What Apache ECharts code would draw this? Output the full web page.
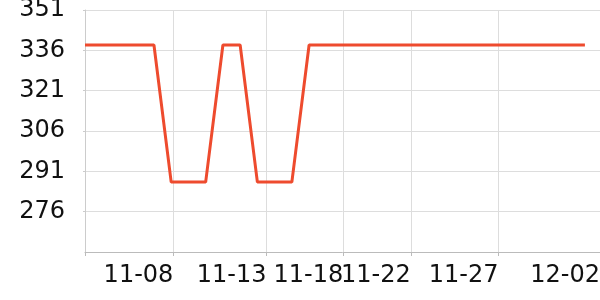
<!DOCTYPE html>
<html><head><meta charset="utf-8">
<script src="https://cdn.jsdelivr.net/npm/echarts@6/dist/echarts.min.js"></script>
<style>html,body{margin:0;padding:0;background:#fff}#c{width:600px;height:300px}</style>
</head><body><div id="c"></div>
<script>
const dates = ['2024-11-03','2024-11-04','2024-11-05','2024-11-06','2024-11-07','2024-11-08','2024-11-09','2024-11-10','2024-11-11','2024-11-12',
  '2024-11-13','2024-11-14','2024-11-15','2024-11-16','2024-11-17','2024-11-18','2024-11-19','2024-11-20','2024-11-21','2024-11-22',
  '2024-11-23','2024-11-24','2024-11-25','2024-11-26','2024-11-27','2024-11-28','2024-11-29','2024-11-30','2024-12-01','2024-12-02'];
const values = [338,338,338,338,338,287,287,287,338,338,
  287,287,287,338,338,338,338,338,338,338,
  338,338,338,338,338,338,338,338,338,338];
const xMin = '2024-11-03T00:00';
const xMax = '2024-12-02T21:00';
const xTickTimes = ['2024-11-08T03:00','2024-11-13T12:45','2024-11-17T23:30','2024-11-21T21:35','2024-11-26T23:45','2024-12-02T21:00'];
const xTickLabels = ['11-08','11-13','11-18','11-22','11-27','12-02'];
const yMin = 261, yMax = 351;
const yTicks = [276,291,306,321,336,351];

// convert times to day offsets from the first date (value axis in days)
const t0 = new Date(xMin).getTime();
const day = s => (new Date(s.length === 10 ? s + 'T00:00' : s).getTime() - t0) / 86400000;
const tickDays = xTickTimes.map(day);

const chart = echarts.init(document.getElementById('c'), null, {renderer:'canvas'});
const font = 'DejaVu Sans';
chart.setOption({
  animation:false,
  grid:{left:85,right:0,top:10,bottom:48,outerBoundsMode:'none',containLabel:false},
  xAxis:{
    type:'value', min:day(xMin), max:day(xMax),
    axisLine:{show:true,onZero:false,lineStyle:{color:'#bbb',width:1}},
    axisTick:{show:true,length:4,lineStyle:{color:'#bbb'},customValues:[day(xMin)].concat(tickDays)},
    splitLine:{show:true,lineStyle:{color:'#ddd',width:1}},
    axisLabel:{show:true,customValues:tickDays,showMinLabel:true,showMaxLabel:true,hideOverlap:false,
      align:'right',margin:12,fontFamily:font,fontSize:24,color:'#111',
      formatter:function(v){const i=tickDays.findIndex(t=>Math.abs(t-v)<1e-4);return i>=0?xTickLabels[i]:'';}}
  },
  yAxis:{
    type:'value', min:yMin, max:yMax,
    axisLine:{show:true,lineStyle:{color:'#ccc',width:1}},
    axisTick:{show:true,length:2,lineStyle:{color:'#ccc'},customValues:yTicks},
    splitLine:{show:true,lineStyle:{color:'#ddd',width:1}},
    axisLabel:{show:true,customValues:yTicks,margin:20,fontFamily:font,fontSize:24,color:'#111'}
  },
  series:[{
    type:'line', showSymbol:false, symbol:'none',
    data: dates.map((d,i)=>[day(d), values[i]]),
    lineStyle:{color:'#EE4B2E',width:3},
    itemStyle:{color:'#EE4B2E'}
  }]
});
</script></body></html>
